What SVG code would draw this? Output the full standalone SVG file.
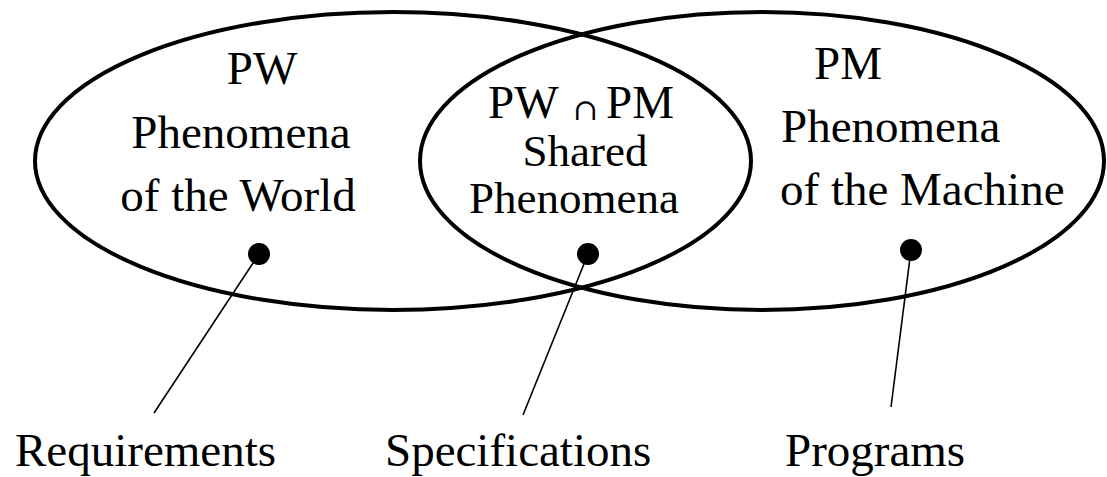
<svg xmlns="http://www.w3.org/2000/svg" width="1107" height="477" viewBox="0 0 1107 477">
<style>
.set{fill:none;stroke:#000;stroke-width:4}
.t{font-family:"Liberation Serif","Times New Roman",serif;font-size:47px;fill:#000}
.m{font-size:45px}
.c{text-anchor:middle}
.dot{fill:#000}
.lead{stroke:#000;stroke-width:1.6;fill:none}
</style>
<rect width="1107" height="477" fill="#fff"/>
<g id="world">
<ellipse class="set" cx="393" cy="161" rx="358" ry="149"/>
<text class="t c" x="262" y="84">PW</text>
<text class="t c" x="241" y="148">Phenomena</text>
<text class="t c" x="238" y="211">of the World</text>
</g>
<g id="machine">
<ellipse class="set" cx="762" cy="161" rx="342" ry="149"/>
<text class="t c" x="848" y="79">PM</text>
<text class="t" x="781" y="142">Phenomena</text>
<text class="t" x="780" y="205">of the Machine</text>
</g>
<g id="shared">
<text class="t" x="488" y="118">PW<tspan x="573" y="120" font-size="30" font-family="DejaVu Serif, serif">∩</tspan><tspan x="606" y="118">PM</tspan></text>
<text class="t m c" x="585" y="166">Shared</text>
<text class="t m c" x="574" y="213">Phenomena</text>
</g>
<g id="connectors">
<circle class="dot" cx="259" cy="254" r="11"/>
<circle class="dot" cx="588" cy="254" r="11"/>
<circle class="dot" cx="911" cy="250" r="11"/>
<line class="lead" x1="259" y1="254" x2="154" y2="413"/>
<line class="lead" x1="588" y1="254" x2="523" y2="415"/>
<line class="lead" x1="911" y1="250" x2="891" y2="407"/>
</g>
<g id="requirements"><text class="t" x="15" y="466">Requirements</text></g>
<g id="specifications"><text class="t" x="385" y="466">Specifications</text></g>
<g id="programs"><text class="t" x="785" y="466">Programs</text></g>
</svg>
